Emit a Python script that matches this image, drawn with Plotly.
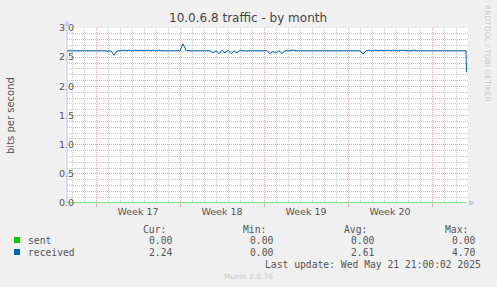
import pandas as pd
import plotly.graph_objects as go

# ---------------- data ----------------
title = "10.0.6.8 traffic - by month"
y_title = "bits per second"

# received, 6-hourly samples starting 2025-04-18 12:00
received_regular = (
    [2.61, 2.61] +                     # Apr 18 12h,18h
    [2.61, 2.62, 2.61, 2.61] +         # Apr 19
    [2.61, 2.61, 2.61, 2.62] +         # Apr 20
    [2.62, 2.61, 2.61, 2.61] +         # Apr 21
    [2.60, 2.61, 2.53, 2.61] +         # Apr 22
    [2.61, 2.62, 2.61, 2.62] +         # Apr 23
    [2.61, 2.62, 2.61, 2.62] +         # Apr 24
    [2.61, 2.62, 2.61, 2.62] +         # Apr 25
    [2.61, 2.62, 2.61, 2.61] +         # Apr 26
    [2.62, 2.61, 2.61, 2.62] +         # Apr 27
    [2.61, 2.73, 2.62, 2.61] +         # Apr 28
    [2.61, 2.61, 2.61, 2.61] +         # Apr 29
    [2.61, 2.62, 2.61, 2.57] +         # Apr 30
    [2.61, 2.56, 2.62, 2.57] +         # May 1
    [2.62, 2.56, 2.61, 2.57] +         # May 2
    [2.62, 2.61, 2.61, 2.62] +         # May 3
    [2.61, 2.61, 2.62, 2.61] +         # May 4
    [2.61, 2.61, 2.56, 2.60] +         # May 5
    [2.57, 2.61, 2.56, 2.61] +         # May 6
    [2.61, 2.62, 2.62, 2.61] +         # May 7
    [2.61, 2.61, 2.61, 2.61] +         # May 8
    [2.62, 2.61, 2.62, 2.61] +         # May 9
    [2.61, 2.61, 2.62, 2.61] +         # May 10
    [2.61, 2.61, 2.61, 2.61] +         # May 11
    [2.61, 2.62, 2.61, 2.61] +         # May 12
    [2.61, 2.55, 2.61, 2.62] +         # May 13
    [2.61, 2.62, 2.61, 2.62] +         # May 14
    [2.61, 2.62, 2.61, 2.62] +         # May 15
    [2.61, 2.61, 2.62, 2.61] +         # May 16
    [2.61, 2.61, 2.62, 2.61] +         # May 17
    [2.61, 2.62, 2.61, 2.61] +         # May 18
    [2.62, 2.61, 2.61, 2.61] +         # May 19
    [2.61, 2.62, 2.61, 2.62] +         # May 20
    [2.61, 2.61, 2.61, 2.61]           # May 21
)
received_tail_times = ["2025-05-21 20:00", "2025-05-21 21:00"]
received_tail = [2.61, 2.24]

times = list(pd.date_range("2025-04-18 12:00", periods=len(received_regular), freq="6h")) + \
        list(pd.to_datetime(received_tail_times))
received = received_regular + received_tail
sent = [0.0] * len(times)

x_range = ["2025-04-18 14:00", "2025-05-22 00:00"]
week_starts = ["2025-04-21", "2025-04-28", "2025-05-05", "2025-05-12", "2025-05-19"]
week_mids = ["2025-04-24 12:00", "2025-05-01 12:00", "2025-05-08 12:00", "2025-05-15 12:00"]
week_labels = ["Week 17", "Week 18", "Week 19", "Week 20"]

y_ticks = [0.0, 0.5, 1.0, 1.5, 2.0, 2.5, 3.0]

series_names = ["sent", "received"]
series_colors = ["#00CC00", "#0066B3"]
stat_headers = ["Cur:", "Min:", "Avg:", "Max:"]
stat_values = [["0.00", "0.00", "0.00", "0.00"],
               ["2.24", "0.00", "2.61", "4.70"]]
last_update = "Last update: Wed May 21 21:00:02 2025"
footer = "Munin 2.0.76"
side_text = "RRDTOOL / TOBI OETIKER"

# ---------------- layout helpers ----------------
W, H = 497, 287
L, R, T, B = 67, 468, 28, 203


def px(x):
    return (x - L) / (R - L)


def py(y):
    return (B - y) / (B - T)


SANS = "DejaVu Sans"
MONO = "DejaVu Sans Mono"
TXT = "#555555"
MAJ = "#E6A8A8"
MIN_ = "#C6C6C6"
DOTS = "1px,1px"

fig = go.Figure()
fig.add_trace(go.Scatter(x=times, y=received, mode="lines", xaxis="x", yaxis="y",
                         line=dict(color=series_colors[1], width=1), hoverinfo="skip"))
fig.add_trace(go.Scatter(x=times, y=sent, mode="lines", xaxis="x2", yaxis="y",
                         line=dict(color=series_colors[0], width=1.2), hoverinfo="skip"))

fig.update_layout(
    width=W, height=H, showlegend=False,
    paper_bgcolor="#F0F0F0", plot_bgcolor="#FFFFFF",
    margin=dict(l=L, r=W - R, t=T, b=H - B, pad=0),
    xaxis=dict(type="date", range=x_range, tickmode="array", tickvals=week_starts,
               showticklabels=False, showgrid=True, gridcolor=MAJ, griddash=DOTS, gridwidth=1,
               ticks="outside", ticklen=3, tickcolor=MAJ,
               minor=dict(dtick=86400000, showgrid=True, gridcolor=MIN_, griddash=DOTS, gridwidth=1),
               zeroline=False, showline=False, layer="below traces"),
    xaxis2=dict(type="date", range=x_range, overlaying="x", anchor="y", side="bottom",
                tickmode="array", tickvals=week_mids, ticktext=week_labels,
                showgrid=False, ticks="", zeroline=False, showline=False,
                ticklabelstandoff=1,
                tickfont=dict(family=SANS, size=9.5, color=TXT)),
    yaxis=dict(range=[0, 3.0], tickmode="array", tickvals=y_ticks, tickformat=".1f",
               showgrid=True, gridcolor=MAJ, griddash=DOTS, gridwidth=1,
               minor=dict(dtick=0.1, showgrid=True, gridcolor=MIN_, griddash=DOTS, gridwidth=1),
               zeroline=False, showline=False, ticks="",
               ticklabelstandoff=-8,
               tickfont=dict(family=SANS, size=9.5, color=TXT)),
)

shapes = []
# axis lines with arrows
shapes.append(dict(type="line", xref="paper", yref="paper", x0=0, x1=0, y0=0, y1=py(22),
                   line=dict(color="#C8C8F0", width=1)))
shapes.append(dict(type="path", xref="paper", yref="paper",
                   path=f"M {px(64)} {py(26)} L {px(70)} {py(26)} L {px(67)} {py(20)} Z",
                   fillcolor="#C8C8F0", line=dict(width=0)))
shapes.append(dict(type="path", xref="paper", yref="paper",
                   path=f"M {px(469)} {py(200)} L {px(469)} {py(206)} L {px(475)} {py(203)} Z",
                   fillcolor="#C8C8F0", line=dict(width=0)))
# legend squares
for i, c in enumerate(series_colors):
    yc = 240 + 12 * i
    shapes.append(dict(type="rect", xref="paper", yref="paper",
                       x0=px(14), x1=px(20), y0=py(yc + 3), y1=py(yc - 3),
                       fillcolor=c, line=dict(width=0)))
fig.update_layout(shapes=shapes)

ann = []
ann.append(dict(text=title, x=px(248), y=py(18), xref="paper", yref="paper", showarrow=False,
                xanchor="center", yanchor="middle", font=dict(family=SANS, size=12, color="#444444")))
ann.append(dict(text=y_title, x=px(10), y=py(116), xref="paper", yref="paper", showarrow=False,
                textangle=-90, xanchor="center", yanchor="middle",
                font=dict(family=SANS, size=10, color=TXT)))
ann.append(dict(text=side_text, x=px(488), y=py(53), xref="paper", yref="paper", showarrow=False,
                textangle=90, xanchor="center", yanchor="middle",
                font=dict(family=SANS, size=7.5, color="#CCCCCC")))
header_right = [168, 268, 369, 470]
value_right = [174, 275, 376, 477]
for h, xr in zip(stat_headers, header_right):
    ann.append(dict(text=h, x=px(xr), y=py(229), xref="paper", yref="paper", showarrow=False,
                    xanchor="right", yanchor="middle", font=dict(family=MONO, size=9.7, color=TXT)))
for i, name in enumerate(series_names):
    yc = 240 + 12 * i
    ann.append(dict(text=name, x=px(26), y=py(yc), xref="paper", yref="paper", showarrow=False,
                    xanchor="left", yanchor="middle", font=dict(family=MONO, size=9.7, color=TXT)))
    for v, xr in zip(stat_values[i], value_right):
        ann.append(dict(text=v, x=px(xr), y=py(yc), xref="paper", yref="paper", showarrow=False,
                        xanchor="right", yanchor="middle", font=dict(family=MONO, size=9.7, color=TXT)))
ann.append(dict(text=last_update, x=px(483), y=py(264), xref="paper", yref="paper", showarrow=False,
                xanchor="right", yanchor="middle", font=dict(family=MONO, size=9.7, color=TXT)))
ann.append(dict(text=footer, x=px(248), y=py(276), xref="paper", yref="paper", showarrow=False,
                xanchor="center", yanchor="middle", font=dict(family=SANS, size=7.5, color="#C8C8C8")))
fig.update_layout(annotations=ann)

fig.write_html("out.html")
